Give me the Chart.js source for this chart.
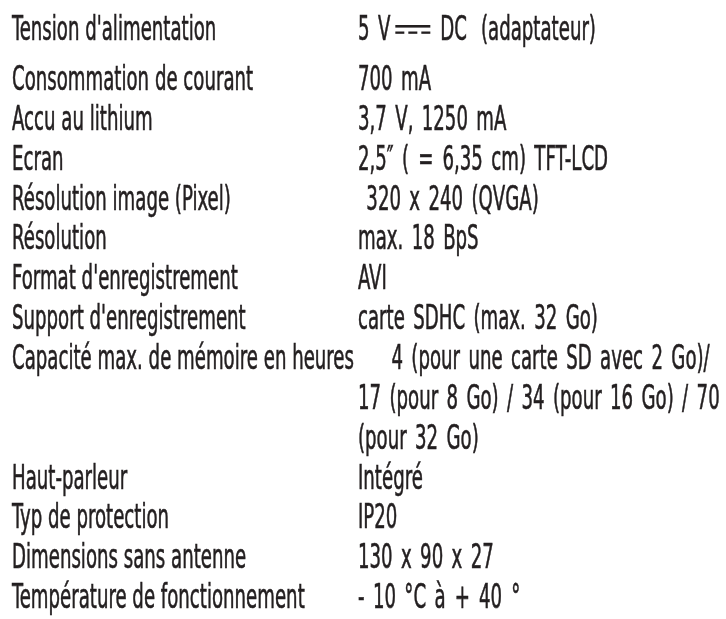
<!DOCTYPE html>
<html>
<head>
<meta charset="utf-8">
<script src="https://cdn.jsdelivr.net/npm/chart.js@4.4.1/dist/chart.umd.min.js"></script>
<style>
  html, body { margin: 0; padding: 0; background: #ffffff; }
  #wrap { width: 726px; height: 619px; position: relative; }
</style>
</head>
<body>
<div id="wrap"><canvas id="c"></canvas></div>
<script>
// ---- data ----
const specLabels = [
  "Tension d'alimentation",
  "Consommation de courant",
  "Accu au lithium",
  "Ecran",
  "Résolution image (Pixel)",
  "Résolution",
  "Format d'enregistrement",
  "Support d'enregistrement",
  "Capacité max. de mémoire en heures",
  "Haut-parleur",
  "Typ de protection",
  "Dimensions sans antenne",
  "Température de fonctionnement"
];
const specValues = [
  ["5 V\u2393DC\u2002(adaptateur)"],
  ["700 mA"],
  ["3,7 V, 1250 mA"],
  ["2,5\u2033 (\u2002=\u20026,35 cm) TFT-LCD"],
  [" 320 x 240 (QVGA)"],
  ["max. 18 BpS"],
  ["AVI"],
  ["carte SDHC (max. 32 Go)"],
  ["    4 (pour une carte SD avec 2 Go)/", "17 (pour 8 Go) / 34 (pour 16 Go) / 70", "(pour 32 Go)"],
  ["Intégré"],
  ["IP20"],
  ["130 x 90 x 27"],
  ["- 10 °C à\u2002+\u200240\u2002°"]
];

// ---- styles ----
const FONT_FAMILY = '"Liberation Sans Narrow", "DejaVu Sans Condensed", "DejaVu Sans", sans-serif';
const FONT_SIZE = 33;
const TEXT_COLOR = '#231f20';
const LEFT_X = 12;
const RIGHT_X = 358;
const FIRST_ROW_GAP = 0.255;   // extra spacing (in lines) after the first row
const LINE_PX = 39.85;
const TOP_PX = 40;
const RIGHT_WORD_EXTRA = 2.6;  // px added per space in the value column

// line positions derived from the row structure
const linePos = [];
let cur = 0;
specValues.forEach((vals, r) => {
  const lines = [];
  vals.forEach(() => { lines.push(cur); cur += 1; });
  if (r === 0) cur += FIRST_ROW_GAP;
  linePos.push(lines);
});
const points = [];
linePos.forEach(ls => ls.forEach(p => points.push({ x: 0, y: p })));

const textPlugin = {
  id: 'specText',
  afterDraw(chart) {
    const ctx = chart.ctx;
    const xs = chart.scales.x, ys = chart.scales.y;
    ctx.save();
    ctx.font = FONT_SIZE + 'px ' + FONT_FAMILY;
    ctx.fillStyle = TEXT_COLOR;
    ctx.strokeStyle = TEXT_COLOR;
    ctx.lineWidth = 0.6;
    ctx.textBaseline = 'alphabetic';
    ctx.textAlign = 'left';
    const sx = 342 / ctx.measureText("Capacité max. de mémoire en heures").width;
    const spaceW = ctx.measureText(' ').width * sx;

    function drawRaw(str, x, y) {
      if (!str) return 0;
      ctx.save();
      ctx.translate(x, y);
      ctx.scale(sx, 1);
      ctx.fillText(str, 0, 0);
      ctx.strokeText(str, 0, 0);
      ctx.restore();
      return ctx.measureText(str).width * sx;
    }
    function draw(str, x, y, extra) {
      if (!extra) return drawRaw(str, x, y);
      const words = str.split(' ');
      let cx = x;
      words.forEach((w, i) => {
        cx += drawRaw(w, cx, y);
        if (i < words.length - 1) cx += spaceW + extra;
      });
      return cx - x;
    }
    function drawDC(str, x, y) {
      const parts = str.split('\u2393');
      let cx = x + draw(parts[0], x, y, RIGHT_WORD_EXTRA);
      // DC symbol: solid line above dashed line
      const w = 35, sx0 = cx + 5;
      ctx.fillRect(sx0, y - 15, w, 2.6);
      const dash = 9, gap = (w - 3 * dash) / 2;
      for (let i = 0; i < 3; i++) ctx.fillRect(sx0 + i * (dash + gap), y - 8.5, dash, 2.3);
      cx = sx0 + w + 10;
      const rest = parts[1].split('\u2002');
      cx += draw(rest[0], cx, y, RIGHT_WORD_EXTRA);
      draw(rest[1], cx + 14, y, RIGHT_WORD_EXTRA);
    }

    specLabels.forEach((lab, r) => {
      const y0 = ys.getPixelForValue(linePos[r][0]);
      draw(lab, xs.getPixelForValue(LEFT_X), y0, 0);
      specValues[r].forEach((v, k) => {
        const y = ys.getPixelForValue(linePos[r][k]);
        const x = xs.getPixelForValue(RIGHT_X);
        if (v.indexOf('\u2393') >= 0) drawDC(v, x, y); else draw(v, x, y, RIGHT_WORD_EXTRA);
      });
    });
    ctx.restore();
  }
};

new Chart(document.getElementById('c'), {
  type: 'scatter',
  data: { datasets: [{ data: points, pointRadius: 0, showLine: false }] },
  options: {
    responsive: true,
    maintainAspectRatio: false,
    animation: false,
    layout: { padding: 0 },
    plugins: { legend: { display: false }, tooltip: { enabled: false } },
    scales: {
      x: { type: 'linear', display: false, min: 0, max: 726 },
      y: { type: 'linear', display: false, reverse: true,
           min: -TOP_PX / LINE_PX, max: (619 - TOP_PX) / LINE_PX }
    }
  },
  plugins: [textPlugin]
});
</script>
</body>
</html>
